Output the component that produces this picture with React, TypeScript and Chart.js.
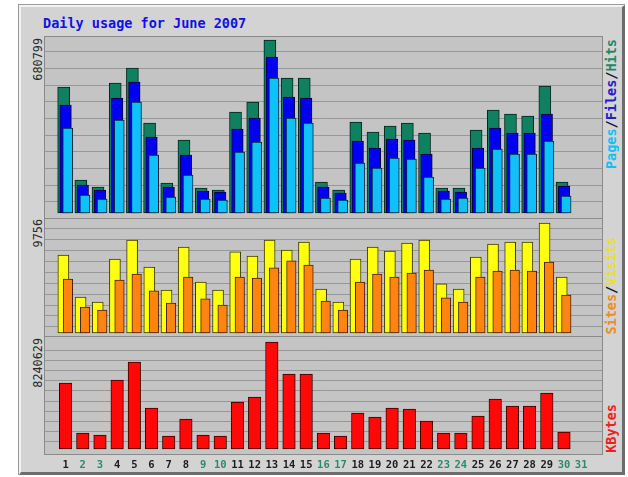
import React, { useEffect, useRef } from 'react';
import { Chart, registerables } from 'chart.js';

Chart.register(...registerables);

// ---------- data ----------
const DAYS = [1, 2, 3, 4, 5, 6, 7, 8, 9, 10, 11, 12, 13, 14, 15, 16, 17, 18, 19, 20, 21, 22, 23, 24, 25, 26, 27, 28, 29, 30, 31];
const WEEKEND_DAYS = [2, 3, 9, 10, 16, 17, 23, 24, 30, 31];

const HITS = [495900, 129900, 102300, 511600, 570600, 354200, 118100, 287300, 98400, 90500, 397500, 436800, 680799, 531300, 531300, 122000, 90500, 358100, 318800, 342400, 354200, 314800, 98400, 98400, 326600, 405300, 389600, 381700, 499800, 122000];
const FILES = [425000, 110200, 90500, 452600, 515500, 299100, 102300, 228200, 86600, 82600, 330600, 373900, 613900, 456500, 452600, 102300, 78700, 283300, 255800, 291200, 287300, 232200, 86600, 82600, 255800, 334500, 314800, 314800, 389600, 106300];
const PAGES = [334500, 70800, 55100, 366000, 436800, 228200, 63000, 149500, 55100, 51200, 240000, 279400, 531300, 373900, 354200, 59000, 51200, 196800, 177100, 216400, 212500, 141700, 55100, 59000, 177100, 251900, 232200, 232200, 283300, 66900];

const VISITS = [6920, 3190, 2750, 6560, 8250, 5850, 3810, 7630, 4520, 3810, 7190, 6830, 8250, 7360, 8070, 3900, 2750, 6560, 7630, 7270, 7980, 8250, 4350, 3900, 6740, 7890, 8070, 8070, 9756, 4970];
const SITES = [4790, 2310, 2040, 4700, 5230, 3730, 2660, 4970, 3020, 2480, 4970, 4880, 5770, 6390, 6030, 2840, 2040, 4520, 5230, 4970, 5320, 5590, 3110, 2750, 4970, 5500, 5590, 5500, 6300, 3370];

const KBYTES = [5083000, 1232000, 1078000, 5314000, 6700000, 3158000, 1001000, 2310000, 1078000, 1001000, 3620000, 4005000, 8240629, 5776000, 5776000, 1232000, 1001000, 2773000, 2464000, 3158000, 3081000, 2156000, 1232000, 1232000, 2541000, 3851000, 3312000, 3312000, 4313000, 1309000];

const TITLE = 'Daily usage for June 2007';

// ---------- styling / layout ----------
const MONO = "'DejaVu Sans Mono', 'Liberation Mono', monospace";
const PLOT_W = 557;
const X_MIN = 0.3242;
const X_MAX = 31.69;
const PX_PER_UNIT = PLOT_W / (X_MAX - X_MIN);
const GRID = '#979797';
const PANEL_BG = '#c4c4c4';
const FACE = '#d3d3d3';

const C_HITS = '#0f8060';
const C_FILES = '#0000f0';
const C_PAGES = '#10c0f8';
const C_VISITS = '#ffff10';
const C_SITES = '#ff8410';
const C_KBYTES = '#ff0808';

const pts = (arr: number[]) => arr.map((v, i) => ({ x: DAYS[i], y: v }));

function xAxis(shiftPx: number, show: boolean) {
  const d = shiftPx / PX_PER_UNIT;
  return {
    type: 'linear' as const,
    display: show,
    min: X_MIN - d,
    max: X_MAX - d,
    afterBuildTicks: (s: any) => {
      s.ticks = DAYS.map((v) => ({ value: v }));
    },
    afterFit: (s: any) => {
      if (show) s.height = 21;
    },
    grid: { display: false, drawTicks: false },
    border: { display: false },
    ticks: {
      display: show,
      autoSkip: false,
      maxRotation: 0,
      padding: 5,
      font: { family: MONO, size: 10.5, weight: 'bold' as const },
      color: (ctx: any) => (WEEKEND_DAYS.includes(ctx.tick && ctx.tick.value) ? '#2b8c6c' : '#1c1c1c'),
      callback: (v: any) => String(v),
    },
  };
}

function yAxis(min: number, max: number, offPx: number, stepPx: number, count: number, heightPx: number) {
  return {
    type: 'linear' as const,
    display: true,
    min,
    max,
    afterBuildTicks: (s: any) => {
      const r = max - min;
      const t: { value: number }[] = [];
      for (let k = 0; k < count; k++) t.push({ value: max - ((offPx + k * stepPx) / heightPx) * r });
      s.ticks = t;
    },
    ticks: { display: false },
    grid: { color: GRID, drawTicks: false, lineWidth: 1 },
    border: { display: false },
  };
}

function bar(label: string, data: number[], axis: string, color: string, border: string, width: number, order: number) {
  return {
    label,
    data: pts(data),
    xAxisID: axis,
    yAxisID: 'y',
    backgroundColor: color,
    borderColor: border,
    borderWidth: 1,
    borderSkipped: false,
    grouped: false,
    categoryPercentage: 1,
    barPercentage: 1,
    maxBarThickness: width,
    order,
  };
}

function PanelChart(props: { datasets: any[]; scales: any; width: number; height: number; left: number; top: number }) {
  const ref = useRef<HTMLCanvasElement | null>(null);
  useEffect(() => {
    if (!ref.current) return;
    const chart = new Chart(ref.current, {
      type: 'bar',
      data: { datasets: props.datasets },
      options: {
        responsive: false,
        animation: false,
        events: [],
        layout: { padding: 0 },
        plugins: { legend: { display: false }, tooltip: { enabled: false }, title: { display: false } },
        scales: props.scales,
      } as any,
    });
    return () => chart.destroy();
  }, []);
  return (
    <canvas
      ref={ref}
      width={props.width}
      height={props.height}
      style={{ position: 'absolute', left: props.left, top: props.top, width: props.width, height: props.height, display: 'block' }}
    />
  );
}

function VText(props: { left: number; top: number; size: number; bold?: boolean; color?: string; children: any }) {
  return (
    <div
      style={{
        position: 'absolute',
        left: props.left,
        top: props.top,
        writingMode: 'vertical-rl',
        transform: 'rotate(180deg)',
        fontFamily: MONO,
        fontSize: props.size,
        fontWeight: props.bold ? 'bold' : 'normal',
        lineHeight: '14px',
        whiteSpace: 'nowrap',
        color: props.color || '#2a2a2a',
      }}
    >
      {props.children}
    </div>
  );
}

const panelBox = (top: number, height: number): React.CSSProperties => ({
  position: 'absolute',
  left: 44,
  top,
  width: 559,
  height,
  boxSizing: 'border-box',
  border: '1px solid #8a8a8a',
  background: PANEL_BG,
});

export default function App() {
  const topSets = [
    bar('Pages', PAGES, 'xr', C_PAGES, '#06243a', 10, 1),
    bar('Files', FILES, 'x', C_FILES, '#000030', 11.5, 2),
    bar('Hits', HITS, 'xl', C_HITS, '#06241a', 12, 3),
  ];
  const topScales = {
    x: xAxis(0, false),
    xl: xAxis(-2, false),
    xr: xAxis(2.2, false),
    y: yAxis(-19677, 692613, 14.7, 16.67, 10, 181),
  };

  const midSets = [
    bar('Sites', SITES, 'xr', C_SITES, '#4a2000', 9.5, 1),
    bar('Visits', VISITS, 'xl', C_VISITS, '#3a3a00', 11, 2),
  ];
  const midScales = {
    x: xAxis(0, false),
    xl: xAxis(-2.3, false),
    xr: xAxis(2.4, false),
    y: yAxis(-266, 10111, 9.5, 10.93, 10, 117),
  };

  const botSets = [bar('KBytes', KBYTES, 'x', C_KBYTES, '#3a0000', 12.5, 1)];
  const botScales = {
    x: xAxis(0, true),
    y: yAxis(-385075, 8625680, 13, 10.2, 10, 117),
  };

  return (
    <div style={{ position: 'absolute', left: 0, top: 0, width: 628, height: 477, background: '#ffffff', overflow: 'hidden' }}>
      {/* outer frame */}
      <div
        style={{
          position: 'absolute',
          left: 18,
          top: 4,
          width: 607,
          height: 471,
          boxSizing: 'border-box',
          borderLeft: '1px solid #9a9a9a',
          borderTop: '1px solid #9a9a9a',
        }}
      >
        <div
          style={{
            position: 'absolute',
            left: 0,
            top: 0,
            right: 0,
            bottom: 0,
            boxSizing: 'border-box',
            background: FACE,
            borderLeft: '2px solid #f2f2f2',
            borderTop: '2px solid #f2f2f2',
            borderRight: '3px solid #6c6c6c',
            borderBottom: '3px solid #6c6c6c',
          }}
        />
      </div>

      {/* title */}
      <div
        style={{
          position: 'absolute',
          left: 43,
          top: 15,
          fontFamily: MONO,
          fontWeight: 'bold',
          fontSize: 13.5,
          lineHeight: '16px',
          color: '#1010e8',
          whiteSpace: 'pre',
        }}
      >
        {TITLE}
      </div>

      {/* panels */}
      <div style={panelBox(36, 183)} />
      <div style={panelBox(218, 119)} />
      <div style={panelBox(336, 119)} />

      <PanelChart datasets={topSets} scales={topScales} left={45} top={37} width={557} height={181} />
      <PanelChart datasets={midSets} scales={midScales} left={45} top={219} width={557} height={117} />
      <PanelChart datasets={botSets} scales={botScales} left={45} top={337} width={557} height={138} />

      {/* left max labels */}
      <VText left={31} top={38} size={11.8}>{String(Math.max(...HITS))}</VText>
      <VText left={31} top={219} size={11.8}>{String(Math.max(...VISITS))}</VText>
      <VText left={31} top={338} size={11.8}>{String(Math.max(...KBYTES))}</VText>

      {/* right series labels */}
      <VText left={604} top={39} size={13.5} bold>
        <span style={{ color: C_PAGES }}>Pages</span>
        <span style={{ color: '#1a1a3a' }}>/</span>
        <span style={{ color: '#2020c8' }}>Files</span>
        <span style={{ color: '#1a1a3a' }}>/</span>
        <span style={{ color: '#1a8a68' }}>Hits</span>
      </VText>
      <VText left={604} top={237} size={13.5} bold>
        <span style={{ color: '#f08a28' }}>Sites</span>
        <span style={{ color: '#1a1a1a' }}>/</span>
        <span style={{ color: '#e8e030' }}>Visits</span>
      </VText>
      <VText left={604} top={404} size={13.5} bold>
        <span style={{ color: '#f02020' }}>KBytes</span>
      </VText>
    </div>
  );
}
